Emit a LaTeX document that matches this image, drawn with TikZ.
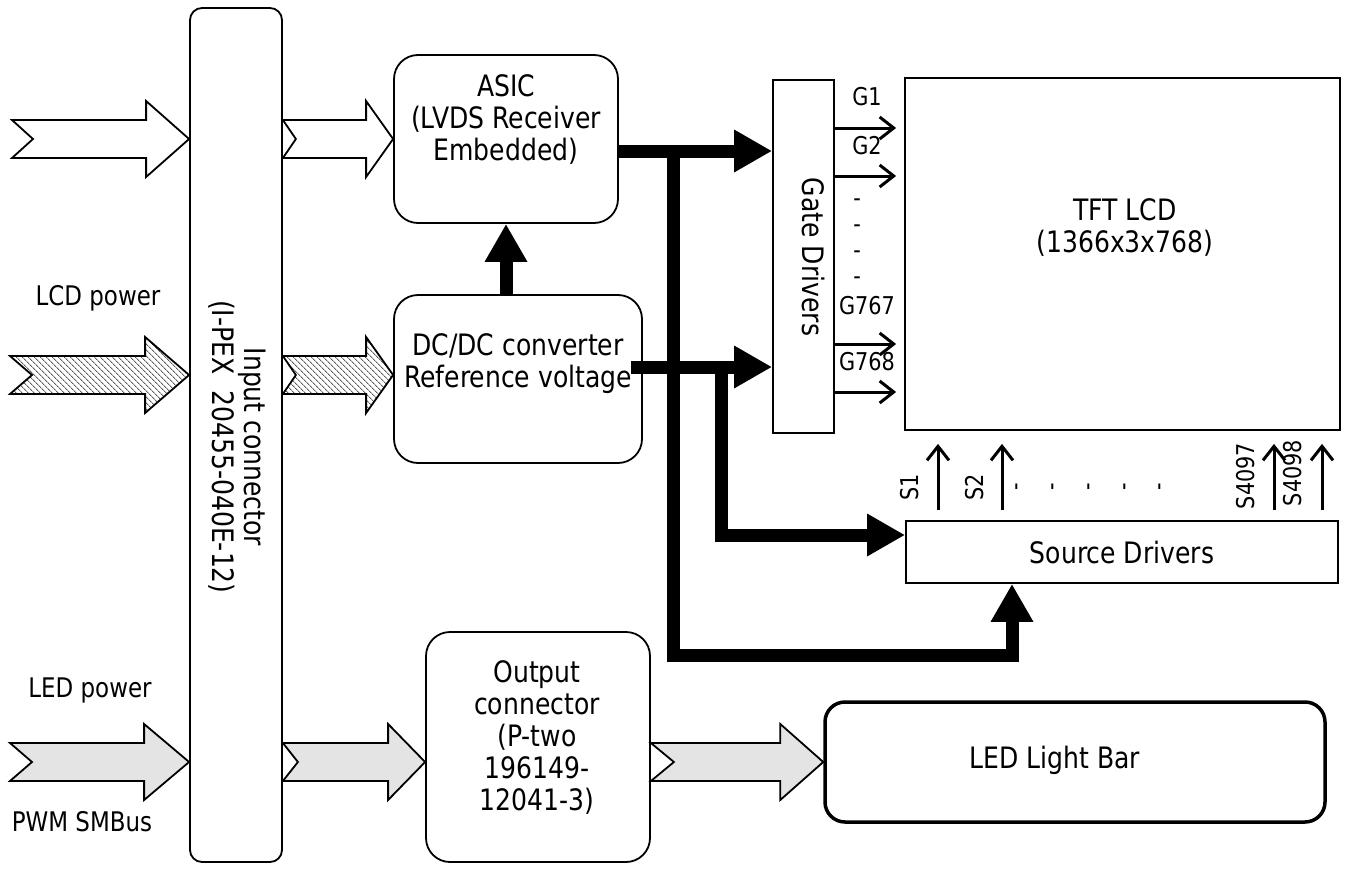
\documentclass[tikz,border=0pt]{standalone}
\usepackage{fontspec}
\setmainfont{DejaVu Sans}[FakeStretch=0.85]
\usepackage{tikz}
\usetikzlibrary{arrows.meta,calc,positioning,patterns.meta}
\definecolor{Hatch}{HTML}{5C5C5C}
\definecolor{Haze}{HTML}{E4E4E4}

\newcommand{\fatarrow}[5][]{%
  \draw[#1] let \p1=(#2), \p2=(#3) in
    (\x1,\y2+19pt) -- (\x2-#4,\y2+19pt) -- (\x2-#4,\y2+38pt) -- (\x2,\y2)
    -- (\x2-#4,\y2-38pt) -- (\x2-#4,\y2-19pt) -- (\x1,\y2-19pt)
    -- (\x1+#5,\y2) -- cycle;}

\begin{document}
\begin{tikzpicture}[x=1pt,y=-1pt,
        font=\fontsize{29.5}{32}\selectfont,
        block/.style={draw,line width=1.8pt,rounded corners=24pt,inner sep=0pt},
        panel/.style={draw,line width=1.8pt,inner sep=0pt},
        bus/.style={line width=13pt,-{Triangle[length=38pt,width=40pt]}},
        gateline/.style={line width=3pt,-{Straight Barb[length=14pt,width=22pt]},shorten >=8pt},
        srcline/.style={line width=3pt,-{Straight Barb[length=14pt,width=22pt]},shorten <=10pt,shorten >=13pt},
        tag/.style={font=\fontsize{24.5}{28}\selectfont},
        side/.style={font=\fontsize{27}{30}\selectfont},
        whitearrow/.style={draw,line width=1.8pt,fill=white},
        hatcharrow/.style={draw,line width=1.8pt,pattern={Lines[angle=-45,distance=4pt,line width=0.9pt]},pattern color=Hatch},
        hazearrow/.style={draw,line width=1.8pt,fill=Haze}]
  \useasboundingbox (0,0) rectangle (1347,870);

  \node[block,rounded corners=12pt,minimum width=92pt,minimum height=854pt] (incon) at (236,435) {};
  \node[rotate=-90,align=center] (inconlabel) at (237,447) {Input connector\\(I-PEX\ \ 20455-040E-12)};

  \node[block,minimum width=224pt,minimum height=168pt] (asic) at (506,139) {};
  \node[align=center] (asiclabel) at (506,119) {ASIC\\(LVDS Receiver\\Embedded)};
  \node[block,minimum width=248pt,minimum height=168pt] (dcdc) at (518,379) {};
  \node[align=center] (dcdclabel) at (518,364) {DC/DC converter\\Reference voltage};
  \node[block,minimum width=224pt,minimum height=230pt] (output) at (538,747) {};
  \node[align=center] (outputlabel) at (537,737) {Output\\connector\\(P-two\\196149-\\12041-3)};
  \node[block,line width=3.5pt,rounded corners=20pt,minimum width=500pt,minimum height=120pt] (ledbar) at (1075,762) {};
  \node (ledbarlabel) at (1055,760) {LED Light Bar};

  \node[panel,minimum width=61pt,minimum height=353pt] (gate) at (803.5,256.5) {};
  \node[rotate=-90] (gatelabel) at (813,257) {Gate Drivers};
  \node[panel,minimum width=435pt,minimum height=352pt] (tft) at (1122.5,254) {};
  \node[align=center] (tftlabel) at (1125,227) {TFT LCD\\(1366x3x768)};
  \node[panel,minimum width=432pt,minimum height=62pt] (source) at (1122,552) {Source Drivers};

  \node[side] (lcdpower) at (98,298) {LCD power};
  \node[side] (ledpower) at (90,690) {LED power};
  \node[side] (pwm) at (82,822) {PWM SMBus};

  \coordinate (lvdsin) at (12,139);
  \coordinate (lcdin) at (10,375);
  \coordinate (ledin) at (10,762);
  \fatarrow[whitearrow]{lvdsin}{incon.west |- lvdsin}{43pt}{21pt}
  \fatarrow[whitearrow]{incon.east |- asic.west}{asic.west}{27pt}{13pt}
  \fatarrow[hatcharrow]{lcdin}{incon.west |- lcdin}{44pt}{22pt}
  \fatarrow[hatcharrow]{incon.east |- lcdin}{dcdc.west |- lcdin}{27pt}{13pt}
  \fatarrow[hazearrow]{ledin}{incon.west |- ledin}{45pt}{22pt}
  \fatarrow[hazearrow]{incon.east |- ledin}{output.west |- ledin}{37pt}{15pt}
  \fatarrow[hazearrow]{output.east |- ledbar.west}{ledbar.west}{43pt}{23pt}

  \coordinate (asicbus) at (673,151);
  \coordinate (srcbus) at (1012,655);
  \coordinate (dcbus) at (721,367);
  \draw[bus] (dcdc.north -| asic.south) -- (asic.south);
  \draw[bus] ([yshift=-12pt]asic.east) -- (gate.west |- asicbus);
  \draw[bus] (asicbus) |- (srcbus) -- (source.south -| srcbus);
  \draw[bus] ([xshift=-12pt,yshift=12pt]dcdc.east) -- (gate.west |- dcbus);
  \draw[bus] (dcbus) |- ([yshift=17pt]source.west);

  \foreach \y/\ly/\g in {128/97/G1,176/146/G2,344/306/G767,392/362/G768}{
    \draw[gateline] (gate.east |- 0,\y) -- (tft.west |- 0,\y);
    \node[tag] (lab\g) at (867,\ly) {\g};
  }
  \foreach \y [count=\i] in {203,229,255,281}
    \node[tag] (gdash\i) at (857,\y) {-};

  \foreach \x in {938,1002,1274,1322}
    \draw[srcline] (source.north -| \x,0) -- (tft.south -| \x,0);
  \foreach \x/\yy/\s in {910/487/S1,975/487/S2,1246/476/S4097,1293/473/S4098}
    \node[tag,rotate=90] (lab\s) at (\x,\yy) {\s};
  \foreach \x [count=\i] in {1020,1056,1092,1128,1163}
    \node[tag,rotate=90] (sdash\i) at (\x,487) {-};
\end{tikzpicture}
\end{document}
